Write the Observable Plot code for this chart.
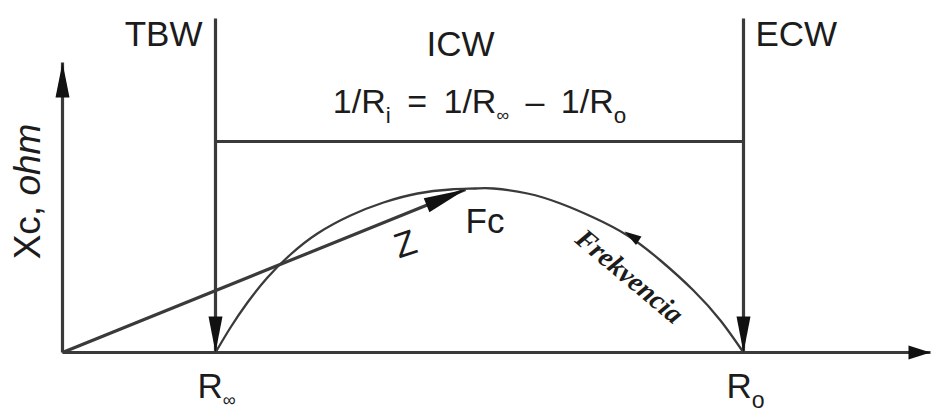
<!DOCTYPE html>
<html><head><meta charset="utf-8">
<script src="https://cdn.jsdelivr.net/npm/d3@7"></script>
<script src="https://cdn.jsdelivr.net/npm/@observablehq/plot@0.6"></script>
<style>body{margin:0;background:#fff}</style>
</head><body><div id="chart"></div>
<script>
// Cole plot of bioimpedance: resistance R (horizontal) vs reactance Xc (vertical), arbitrary units
const Rinf = 153;        // R∞  (TBW marker)
const R0 = 681;          // R0  (ECW marker)
const axisR = 868;       // extent of the resistance axis
const axisXc = 290;      // extent of the reactance axis
const markerTop = 334;   // top of the TBW / ECW markers
const icwLevel = 211;    // level of the ICW bracket
// arc of measured impedance (read from the picture)
const arcR  = [153, 168, 185, 205, 228, 255, 288, 321, 355, 388, 413, 431, 465, 498, 531, 565, 598, 631, 658, 681];
const arcXc = [0,   25,  50,  75,  98,  119, 137, 150, 159, 163, 164, 164, 159, 149, 135, 117, 92,  62,  32,  0];
// impedance vector Z at the characteristic frequency Fc
const zR = 403, zXc = 163;
// frequency direction arrow on the arc
const freqR = 562, freqXc = 121;
const markerLabels = ["TBW", "ICW", "ECW"];
const formula = "1/R_{i} = 1/R_{∞} – 1/R_{o}";
const yLabel = "Xc, *ohm*";
const resLabels = ["R_{∞}", "R_{o}"];
const zLabel = "Z", fcLabel = "Fc", freqLabel = "Frekvencia";

const arc = arcR.map((r, i) => ({r, xc: arcXc[i]}));
const segs = [
  {r1: 0, x1: 0, r2: axisR, x2: 0},
  {r1: 0, x1: 0, r2: 0, x2: axisXc},
  {r1: Rinf, x1: markerTop, r2: Rinf, x2: 0},
  {r1: R0, x1: markerTop, r2: R0, x2: 0},
  {r1: Rinf, x1: icwLevel, r2: R0, x2: icwLevel},
  {r1: 0, x1: 0, r2: zR, x2: zXc}
];
const head = (len, hw) => ({draw(ctx) { ctx.moveTo(0, 0); ctx.lineTo(hw, len); ctx.lineTo(-hw, len); ctx.closePath(); }});
const deg = Math.atan2(zR, zXc) * 180 / Math.PI;

const LINE = "#3a3a3a", INK = "#1c1c1c";
const SANS = "Liberation Sans, Arial, Helvetica, sans-serif";
const txt = (label, o) => Plot.text([label], {text: d => d, fill: INK, fontSize: 35, fontFamily: SANS, lineAnchor: "bottom", ...o});

const svg = Plot.plot({
  width: 934, height: 412,
  marginTop: 0, marginRight: 0, marginBottom: 0, marginLeft: 0,
  x: {domain: [-62, 872], axis: null},
  y: {domain: [-60, 352], axis: null},
  style: {background: "white", fontFamily: SANS},
  marks: [
    Plot.line(arc, {x: "r", y: "xc", curve: "natural", stroke: LINE, strokeWidth: 2.3}),
    Plot.link(segs, {x1: "r1", y1: "x1", x2: "r2", y2: "x2", stroke: LINE, strokeWidth: 3.2}),
    // arrowheads
    Plot.dot([0], {x: () => axisR, y: () => 0, rotate: 90, symbol: head(22, 7), fill: "#111", stroke: null}),
    Plot.dot([0], {x: () => 0, y: () => axisXc, rotate: 0, symbol: head(35, 7), fill: "#111", stroke: null}),
    Plot.dot([Rinf, R0], {x: d => d, y: () => 0, rotate: 180, symbol: head(36, 7), fill: "#111", stroke: null}),
    Plot.dot([0], {x: () => zR, y: () => zXc, rotate: deg, symbol: head(42, 7.5), fill: "#111", stroke: null}),
    Plot.dot([0], {x: () => freqR, y: () => freqXc, rotate: -57, symbol: head(17, 5), fill: "#111", stroke: null}),
    // labels
    txt(markerLabels[0], {x: () => Rinf, y: () => 307, dx: -13, textAnchor: "end"}),
    txt(markerLabels[1], {x: () => (Rinf + R0) / 2, y: () => 297, dx: -19}),
    txt(markerLabels[2], {x: () => R0, y: () => 307, dx: 12, textAnchor: "start"}),
    txt(formula, {x: () => (Rinf + R0) / 2, y: () => 240, fontSize: 34}),
    txt(resLabels[0], {x: () => Rinf, y: () => -45, dx: -18, textAnchor: "start"}),
    txt(resLabels[1], {x: () => R0, y: () => -45, dx: -17, textAnchor: "start"}),
    txt(yLabel, {x: () => -34, y: () => 161, rotate: -90, lineAnchor: "middle", fontSize: 37}),
    txt(fcLabel, {x: () => zR, y: () => 120, textAnchor: "start"}),
    txt(zLabel, {x: () => 343, y: () => 108, rotate: -18, lineAnchor: "middle"}),
    Plot.text([freqLabel], {text: d => d, x: () => 567, y: () => 76, rotate: 40, fill: INK, fontSize: 28,
      fontFamily: "Liberation Serif, Times New Roman, serif", fontWeight: "bold", fontStyle: "italic", lineAnchor: "middle"})
  ]
});

// rich text: _{..} subscripts, *..* italics
const NS = "http://www.w3.org/2000/svg";
svg.querySelectorAll("text").forEach(t => {
  const s = t.textContent;
  if (!/[_*]/.test(s)) return;
  if (s === formula) t.style.wordSpacing = "7px";
  while (t.firstChild) t.removeChild(t.firstChild);
  const re = /_\{([^}]*)\}|\*([^*]*)\*|([^_*]+)/g;
  let m, shift = 0;
  while ((m = re.exec(s))) {
    const ts = document.createElementNS(NS, "tspan");
    if (m[1] !== undefined) {
      const inf = m[1] === "∞";
      ts.textContent = m[1];
      ts.setAttribute("font-size", inf ? "0.52em" : "0.66em");
      const d = inf ? 8 : 10;
      ts.setAttribute("dy", String(d - shift));
      shift = d;
    } else {
      ts.textContent = m[2] !== undefined ? m[2] : m[3];
      if (m[2] !== undefined) ts.setAttribute("font-style", "italic");
      if (shift) { ts.setAttribute("dy", String(-shift)); shift = 0; }
    }
    t.appendChild(ts);
  }
});
document.getElementById("chart").appendChild(svg);
</script>
</body></html>
